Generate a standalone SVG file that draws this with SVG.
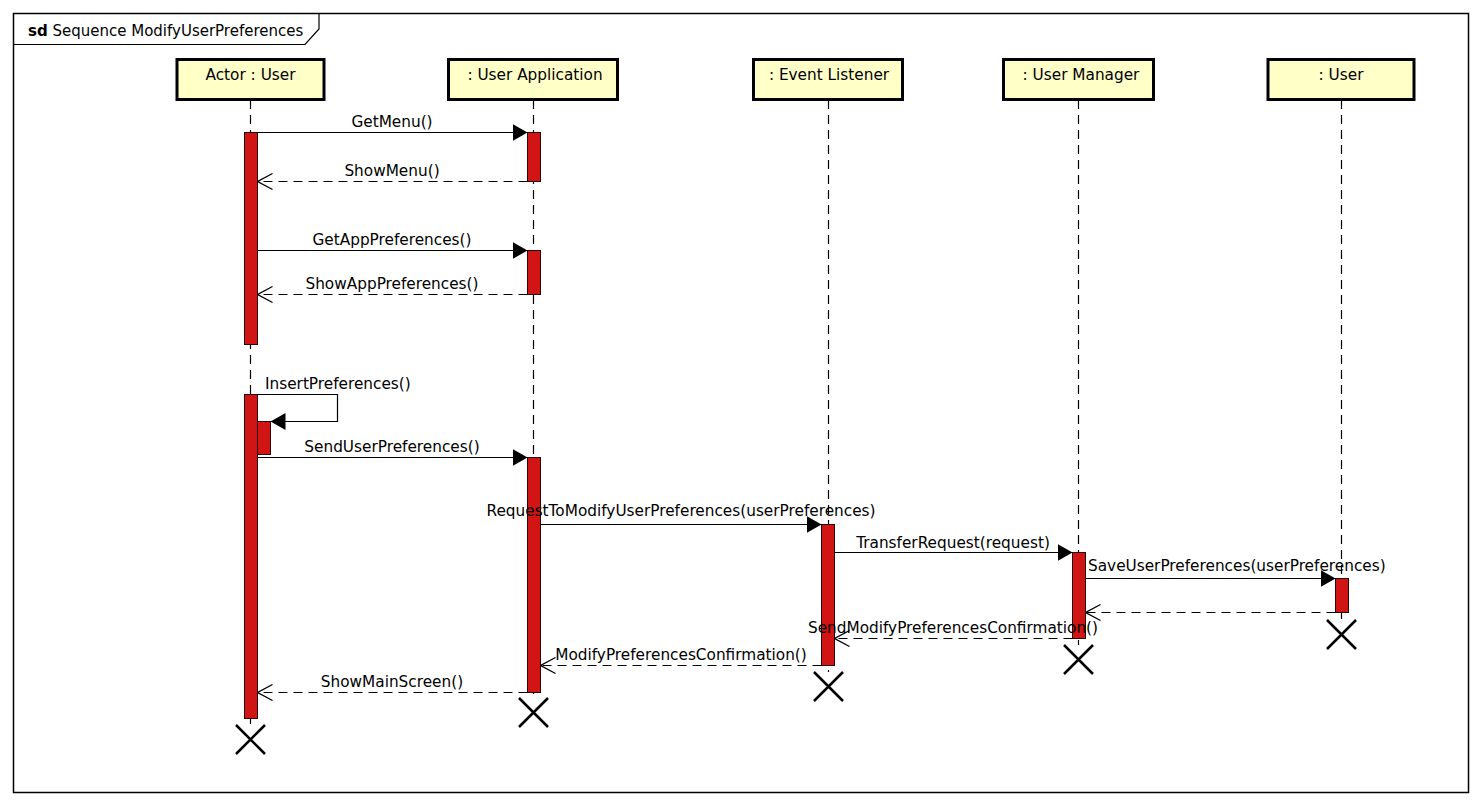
<svg xmlns="http://www.w3.org/2000/svg" width="1482" height="805" viewBox="0 0 1482 805">
<defs>
<style>
text{font-family:"DejaVu Sans","Liberation Sans",sans-serif;font-size:15.3px;fill:#000}
.head rect{fill:#ffffc8;stroke:#000;stroke-width:3}
.head text{text-anchor:middle}
.life{stroke:#000;stroke-width:1.2;stroke-dasharray:9 6;fill:none}
.act{fill:#d11414;stroke:#2a0000;stroke-width:1}
.call{stroke:#000;stroke-width:1.2;fill:none;marker-end:url(#filled)}
.ret{stroke:#000;stroke-width:1.2;fill:none;stroke-dasharray:9 6;marker-end:url(#open)}
.lbl{text-anchor:middle}
.x{stroke:#000;stroke-width:2.5;fill:none}
</style>
<marker id="filled" viewBox="0 0 15 17" refX="15" refY="8.5" markerWidth="15" markerHeight="17" markerUnits="userSpaceOnUse" orient="auto">
<path d="M0,0 L15,8.5 L0,17 Z" fill="#000"/>
</marker>
<marker id="open" viewBox="0 0 15 17" refX="15" refY="8.5" markerWidth="15" markerHeight="17" markerUnits="userSpaceOnUse" orient="auto">
<path d="M0,0.5 L15,8.5 L0,16.5" fill="none" stroke="#000" stroke-width="1.2" stroke-dasharray="none"/>
</marker>
</defs>
<rect x="0" y="0" width="1482" height="805" fill="#fff"/>
<g id="frame">
<rect x="13.5" y="13.5" width="1455" height="779" fill="none" stroke="#000" stroke-width="1.5"/>
<path d="M13.5,44.5 L305,44.5 L319,29 L319,13.5" fill="none" stroke="#000" stroke-width="1.2"/>
<text x="28" y="36" style="font-size:15px"><tspan font-weight="bold">sd</tspan> Sequence ModifyUserPreferences</text>
</g>
<g id="lifelines">
<line class="life" x1="250.5" y1="100" x2="250.5" y2="725"/>
<line class="life" x1="533.5" y1="100" x2="533.5" y2="698"/>
<line class="life" x1="828.5" y1="100" x2="828.5" y2="672"/>
<line class="life" x1="1078.5" y1="100" x2="1078.5" y2="645"/>
<line class="life" x1="1341.5" y1="100" x2="1341.5" y2="620"/>
</g>
<g id="actor_user" class="head">
<rect x="177" y="59.5" width="147" height="40"/>
<text x="250.5" y="80">Actor : User</text>
</g>
<g id="user_application" class="head">
<rect x="448.5" y="59.5" width="169" height="40"/>
<text x="535" y="80">: User Application</text>
</g>
<g id="event_listener" class="head">
<rect x="753.5" y="59.5" width="149" height="40"/>
<text x="829" y="80">: Event Listener</text>
</g>
<g id="user_manager" class="head">
<rect x="1003.5" y="59.5" width="150" height="40"/>
<text x="1081" y="80">: User Manager</text>
</g>
<g id="user" class="head">
<rect x="1268" y="59.5" width="146" height="40"/>
<text x="1341" y="80">: User</text>
</g>
<g id="activations">
<rect class="act" x="244.5" y="132.5" width="13" height="212"/>
<rect class="act" x="244.5" y="394.5" width="13" height="324"/>
<rect class="act" x="257.5" y="421.5" width="13" height="33"/>
<rect class="act" x="527.5" y="132.5" width="13" height="49"/>
<rect class="act" x="527.5" y="250.5" width="13" height="44"/>
<rect class="act" x="527.5" y="457.5" width="13" height="235"/>
<rect class="act" x="821.5" y="524.5" width="13" height="141"/>
<rect class="act" x="1072.5" y="552.5" width="13" height="86"/>
<rect class="act" x="1335.5" y="578.5" width="13" height="34"/>
</g>
<g id="connectors">
<line class="call" x1="257.5" y1="132.5" x2="527.5" y2="132.5"/>
<line class="ret" x1="527.5" y1="181.5" x2="257.5" y2="181.5"/>
<line class="call" x1="257.5" y1="250.5" x2="527.5" y2="250.5"/>
<line class="ret" x1="527.5" y1="294.5" x2="257.5" y2="294.5"/>
<polyline class="call" points="257.5,394.5 337.5,394.5 337.5,421.5 270.5,421.5"/>
<line class="call" x1="257.5" y1="457.5" x2="527.5" y2="457.5"/>
<line class="call" x1="540.5" y1="524.5" x2="821.5" y2="524.5"/>
<line class="call" x1="834.5" y1="552.5" x2="1072.5" y2="552.5"/>
<line class="call" x1="1085.5" y1="578.5" x2="1335.5" y2="578.5"/>
<line class="ret" x1="1335.5" y1="612.5" x2="1085.5" y2="612.5"/>
<line class="ret" x1="1072.5" y1="638.5" x2="834.5" y2="638.5"/>
<line class="ret" x1="821.5" y1="665.5" x2="540.5" y2="665.5"/>
<line class="ret" x1="527.5" y1="692.5" x2="257.5" y2="692.5"/>
</g>
<g id="labels">
<text class="lbl" x="392" y="127">GetMenu()</text>
<text class="lbl" x="392" y="176">ShowMenu()</text>
<text class="lbl" x="392" y="245">GetAppPreferences()</text>
<text class="lbl" x="392" y="289">ShowAppPreferences()</text>
<text x="265" y="389">InsertPreferences()</text>
<text class="lbl" x="392" y="452">SendUserPreferences()</text>
<text class="lbl" x="681" y="516">RequestToModifyUserPreferences(userPreferences)</text>
<text class="lbl" x="953" y="548">TransferRequest(request)</text>
<text x="1088" y="571">SaveUserPreferences(userPreferences)</text>
<text class="lbl" x="953" y="633">SendModifyPreferencesConfirmation()</text>
<text class="lbl" x="681" y="660">ModifyPreferencesConfirmation()</text>
<text class="lbl" x="392" y="687">ShowMainScreen()</text>
</g>
<g id="destroys">
<path class="x" d="M236,725 L265,754 M265,725 L236,754"/>
<path class="x" d="M519,698 L548,727 M548,698 L519,727"/>
<path class="x" d="M814,672 L843,701 M843,672 L814,701"/>
<path class="x" d="M1064,645 L1093,674 M1093,645 L1064,674"/>
<path class="x" d="M1327,620 L1356,649 M1356,620 L1327,649"/>
</g>
</svg>
